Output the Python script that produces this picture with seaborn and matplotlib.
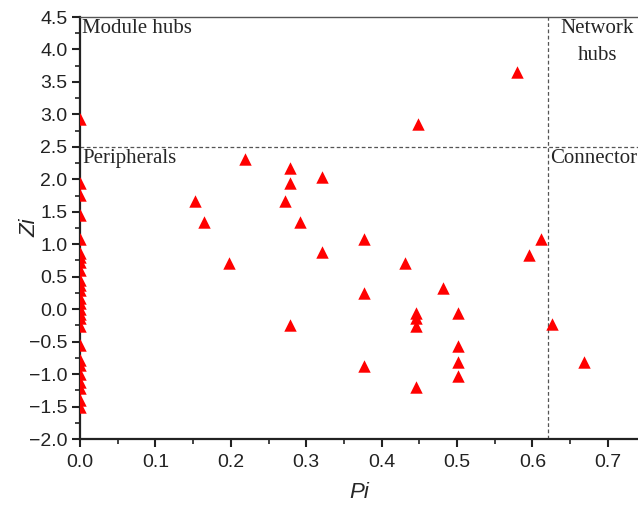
import matplotlib
matplotlib.use("Agg")
import matplotlib.pyplot as plt
import seaborn as sns
import pandas as pd
from matplotlib.ticker import MultipleLocator

# ---- data ----
pi_zero_zi = [2.93, 1.94, 1.76, 1.45, 1.08, 0.86, 0.80, 0.73, 0.60, 0.45, 0.37,
              0.29, 0.17, 0.09, 0.00, -0.08, -0.14, -0.26, -0.55, -0.78, -0.86,
              -1.00, -1.12, -1.22, -1.40, -1.50]
pi_other = [0.579, 0.448, 0.219, 0.279, 0.321, 0.279, 0.153, 0.272, 0.165, 0.292,
            0.376, 0.321, 0.198, 0.376, 0.279, 0.612, 0.596, 0.431, 0.481, 0.446,
            0.446, 0.446, 0.501, 0.626, 0.501, 0.376, 0.501, 0.668, 0.501, 0.446]
zi_other = [3.66, 2.85, 2.32, 2.18, 2.03, 1.94, 1.665, 1.665, 1.346, 1.346,
            1.08, 0.874, 0.714, 0.252, -0.246, 1.075, 0.83, 0.714, 0.32, -0.066,
            -0.143, -0.26, -0.066, -0.235, -0.56, -0.873, -0.81, -0.82, -1.03, -1.2]

pi_values = [0.0] * len(pi_zero_zi) + pi_other
zi_values = pi_zero_zi + zi_other

pi_threshold = 0.62
zi_threshold = 2.5
x_ticks = [0.0, 0.1, 0.2, 0.3, 0.4, 0.5, 0.6, 0.7]
y_ticks = [-2.0, -1.5, -1.0, -0.5, 0.0, 0.5, 1.0, 1.5, 2.0, 2.5, 3.0, 3.5, 4.0, 4.5]

df = pd.DataFrame({"Pi": pi_values, "Zi": zi_values})

sns.set_style("ticks")
plt.rcParams["font.family"] = ["Liberation Sans", "DejaVu Sans"]

fig = plt.figure(figsize=(6.38, 5.05), dpi=100)
ax = fig.add_axes([80 / 638, 1 - 439 / 505, 1 - 80 / 638, (439 - 17) / 505])

sns.scatterplot(data=df, x="Pi", y="Zi", marker="^", color="#ff0000",
                s=80, linewidth=0, ax=ax, zorder=3)

ax.set_xlim(0, 0.74)
ax.set_ylim(-2.0, 4.5)
ax.set_xticks(x_ticks)
ax.set_yticks(y_ticks)
ax.xaxis.set_minor_locator(MultipleLocator(0.05))
ax.yaxis.set_minor_locator(MultipleLocator(0.25))
ax.set_xticklabels([f"{v:.1f}" for v in x_ticks])
ax.set_yticklabels([f"{v:.1f}".replace("-", "\u2212") for v in y_ticks])

ax.tick_params(which="major", direction="out", length=6, width=1.5,
               labelsize=14, colors="#222222", labelcolor="#222222")
ax.tick_params(axis="x", which="major", pad=5)
ax.tick_params(axis="y", which="major", pad=3)
ax.tick_params(which="minor", direction="out", length=3.5, width=1.2,
               colors="#222222")

for side in ["left", "bottom"]:
    ax.spines[side].set_linewidth(1.6)
    ax.spines[side].set_color("#222222")
ax.spines["top"].set_linewidth(1.0)
ax.spines["top"].set_color("#555555")
ax.spines["right"].set_visible(False)

ax.axhline(zi_threshold, color="#555555", lw=0.9, ls=(0, (3, 2)), zorder=1)
ax.axvline(pi_threshold, color="#555555", lw=0.9, ls=(0, (3, 2)), zorder=1)

ax.set_xlabel("Pi", fontsize=16, style="italic")
ax.set_ylabel("Zi", fontsize=16, style="italic")
ax.xaxis.set_label_coords(0.5, (439 - 492) / 422, transform=ax.transAxes)
ax.yaxis.set_label_coords((30 - 80) / 558, 0.5, transform=ax.transAxes)
ax.xaxis.label.set_va("center")
ax.yaxis.label.set_va("center")

serif = ["Liberation Serif", "DejaVu Serif"]
ax.text(0.003, 4.47, "Module hubs", family=serif, fontsize=15, ha="left", va="top")
ax.text(0.003, 2.46, "Peripherals", family=serif, fontsize=15, ha="left", va="top")
ax.text(0.686, 4.47, "Network\nhubs", family=serif, fontsize=15, ha="center",
        va="top", linespacing=1.6)
ax.text(0.623, 2.46, "Connectors", family=serif, fontsize=15, ha="left", va="top",
        clip_on=False)

fig.savefig("out.png", dpi=100)
